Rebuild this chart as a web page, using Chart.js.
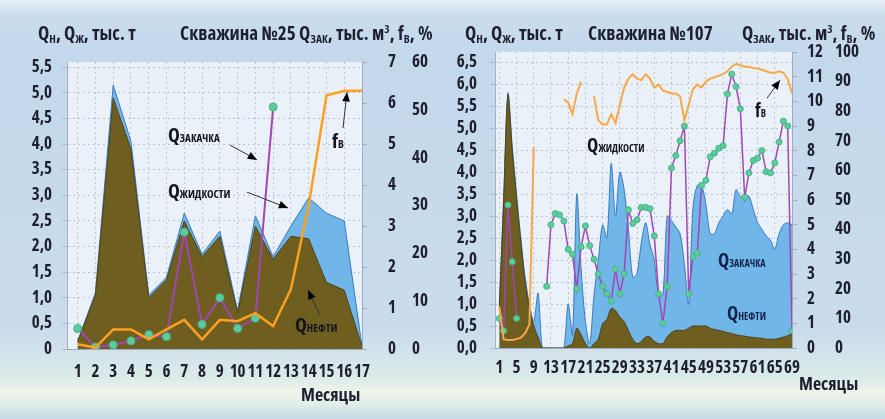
<!DOCTYPE html>
<html>
<head>
<meta charset="utf-8">
<script src="https://cdn.jsdelivr.net/npm/chart.js@4.4.1/dist/chart.umd.min.js"></script>
<style>
  html, body { margin: 0; padding: 0; }
  body {
    width: 885px; height: 419px; overflow: hidden; position: relative;
    background: linear-gradient(to bottom, #e8eef5 0px, #cadcee 16px, #c4d8ec 60px, #cadcec 330px, #dceae8 378px, #eef5ea 392px, #e2eee8 404px, #c4dae6 419px);
  }
  canvas { position: absolute; top: 0; }
  .hdr { position: absolute; top: 20px; color: #1e2030; white-space: nowrap; }
  .hdr sub { font-size: 60%; vertical-align: -3px; }
  .hdr sup { font-size: 60%; vertical-align: 7px; }
  .xt { position: absolute; color: #1e2030; white-space: nowrap; }
</style>
</head>
<body>
<canvas id="c25" width="445" height="419" style="left:0px"></canvas>
<canvas id="c107" width="445" height="419" style="left:440px"></canvas>

<div class="hdr" style="left:38px">Q<sub>Н</sub>, Q<sub>Ж</sub>, тыс. т</div>
<div class="hdr" style="left:180px">Скважина №25 Q<sub>ЗАК</sub>, тыс. м<sup>3</sup>, f<sub>В</sub>, %</div>
<div class="hdr" style="left:465px">Q<sub>Н</sub>, Q<sub>Ж</sub>, тыс. т</div>
<div class="hdr" style="left:588px">Скважина №107</div>
<div class="hdr" style="left:742px">Q<sub>ЗАК</sub>, тыс. м<sup>3</sup>, f<sub>В</sub>, %</div>
<div class="xt" style="left:301px; top:382px">Месяцы</div>
<div class="xt" style="left:799px; top:371px">Месяцы</div>

<script>
// ---- Скважина №25 ----
const months25 = [1, 2, 3, 4, 5, 6, 7, 8, 9, 10, 11, 12, 13, 14, 15, 16, 17];
const qLiquid25 = [0.15, 1.1, 5.15, 4.05, 1.05, 1.4, 2.65, 1.85, 2.3, 0.75, 2.6, 1.8, 2.4, 2.95, 2.65, 2.5, 0.05];
const qOil25 = [0.15, 1.05, 4.9, 3.9, 1.0, 1.35, 2.5, 1.8, 2.2, 0.7, 2.4, 1.75, 2.2, 2.15, 1.3, 1.15, 0.05];
const qInj25 = [0.5, 0.05, 0.1, 0.2, 0.35, 0.3, 2.85, 0.6, 1.25, 0.5, 0.75, 5.9, null, null, null, null, null];
const fw25 = [1.0, 0.3, 4.1, 4.1, 2.0, 4.1, 6.1, 2.0, 6.1, 5.8, 7.5, 4.8, 12.5, 30, 53, 54, 54];
const qTicks25 = [0, 0.5, 1, 1.5, 2, 2.5, 3, 3.5, 4, 4.5, 5, 5.5];
const qTickLabels25 = ['0', '0,5', '1,0', '1,5', '2,0', '2,5', '3,0', '3,5', '4,0', '4,5', '5,0', '5,5'];

// ---- Скважина №107 ----
const months107 = Array.from({length: 69}, (_, i) => i + 1);
const monthTicks107 = [1, 5, 9, 13, 17, 21, 25, 29, 33, 37, 41, 45, 49, 53, 57, 61, 65, 69];
const qLiquid107 = [1.0, 3.4, 5.8, 4.6, 3.5, 2.5, 1.6, 1.0, 0.6, 1.25,
  0, 0, 0, 0, 0, 0, 1.0, 0.3, 3.5, 1.8,
  0.6, 0.1, 1.2, 2.0, 2.8, 2.5, 4.2, 3.0, 4.0, 3.6,
  2.7, 1.6, 1.7, 2.4, 2.85, 2.35, 2.0, 1.2, 1.2, 3.0,
  2.9, 2.75, 2.6, 1.9, 1.0, 3.2, 3.7, 3.7, 3.25, 2.6,
  2.6, 2.85, 3.0, 3.15, 3.05, 3.6, 3.45, 3.45, 3.45, 3.15,
  2.85, 2.7, 2.55, 2.45, 2.25, 2.6, 2.8, 2.85, 2.8];
const qOil107 = [0.9, 3.3, 5.75, 4.5, 3.4, 2.4, 1.5, 0.9, 0.5, 0.25,
  0, 0, 0, 0, 0, 0, 0.05, 0.1, 0.45, 0.3,
  0.1, 0.0, 0.1, 0.2, 0.55, 0.65, 0.9, 0.85, 0.7, 0.6,
  0.4, 0.2, 0.1, 0.15, 0.25, 0.25, 0.15, 0.1, 0.1, 0.25,
  0.35, 0.4, 0.4, 0.4, 0.45, 0.5, 0.5, 0.5, 0.5, 0.45,
  0.42, 0.4, 0.38, 0.35, 0.33, 0.3, 0.28, 0.27, 0.25, 0.24,
  0.23, 0.22, 0.2, 0.2, 0.2, 0.22, 0.25, 0.28, 0.32];
const qInj107 = [1.2, 0.7, 5.8, 3.5, 1.2, null, null, null, null, null,
  null, 2.5, 5.0, 5.45, 5.4, 5.15, 4.0, 3.8, 2.4, 4.1,
  4.95, 4.15, 3.6, 3.0, 2.5, 2.2, 1.9, 3.2, 2.2, 3.0,
  5.6, 5.05, 5.2, 5.7, 5.7, 5.65, 4.55, 2.2, 1.0, 2.5,
  7.3, 7.8, 8.4, 9.0, 2.2, 3.7, 3.85, 6.6, 6.8, 7.75,
  7.9, 8.1, 8.2, 10.3, 11.1, 10.6, 9.7, 6.1, 7.1, 7.6,
  7.7, 8.0, 7.15, 7.1, 7.5, 8.35, 9.2, 9.0, 0.7];
const fw107 = [14, 3.0, 2.7, 2.7, 3.0, 3.5, 5.0, 8.0, 68, null,
  null, null, null, null, null, 84, 83, 79, 86, 90,
  null, null, 85, 77, 75.5, 75.5, 79, 76, 82, 88,
  91, 92.5, 91, 90.5, 92.5, 91, 88, 89, 87, 86.5,
  86, 86, 85, 77, 82, 87.5, 89, 88, 90, 91,
  91.5, 92, 92.5, 93.5, 95, 96, 95.5, 95, 95, 94.5,
  94.5, 94, 93.5, 93, 93, 93.5, 93, 91, 86];
const qTicks107 = [0, 0.5, 1, 1.5, 2, 2.5, 3, 3.5, 4, 4.5, 5, 5.5, 6, 6.5];
const qTickLabels107 = ['0,0', '0,5', '1,0', '1,5', '2,0', '2,5', '3,0', '3,5', '4,0', '4,5', '5,0', '5,5', '6,0', '6,5'];

// подписи на графиках (в единицах осей)
const notes25 = [
  {x: 6.08, y: 4.04, main: 'Q', sub: 'ЗАКАЧКА', size: 20, arrow: [9.57, 3.98, 11.09, 3.69]},
  {x: 6.08, y: 2.95, main: 'Q', sub: 'ЖИДКОСТИ', size: 20, arrow: [10.53, 3.06, 12.84, 2.75]},
  {x: 15.31, y: 3.92, main: 'f', sub: 'В', size: 20, arrow: [15.93, 4.31, 16.16, 5.01]},
  {x: 13.23, y: 0.33, main: 'Q', sub: 'НЕФТИ', size: 20, arrow: [14.64, 0.66, 13.96, 1.15]}
];
const notes107 = [
  {x: 21.4, y: 4.46, main: 'Q', sub: 'ЖИДКОСТИ', size: 19},
  {x: 51.8, y: 1.84, main: 'Q', sub: 'ЗАКАЧКА', size: 19, color: '#16224a'},
  {x: 53.9, y: 0.64, main: 'Q', sub: 'НЕФТИ', size: 19, color: '#16224a'},
  {x: 60.4, y: 5.25, main: 'f', sub: 'В', size: 19, arrow: [63.2, 5.68, 66.2, 6.09]}
];

// узкий шрифт (в оригинале Arial Narrow): берём самый узкий из доступных
const fontCandidates = [
  {weight: 'bold', family: "'Liberation Sans Narrow'"},
  {weight: 'bold', family: "'Roboto Condensed'"},
  {weight: 'condensed bold', family: "'Open Sans'"},
  {weight: 'condensed bold', family: "'Noto Sans'"},
  {weight: 'bold', family: "'Liberation Sans'"}
];
const mctx = document.createElement('canvas').getContext('2d');
let FW = fontCandidates[fontCandidates.length - 1], best = 1e9;
fontCandidates.forEach(c => {
  mctx.font = c.weight + ' 16px ' + c.family;
  const w = mctx.measureText('Скважина 0123456789').width;
  if (w < best - 0.5) { best = w; FW = c; }
});
const FONT = FW.family + ", 'Liberation Sans', sans-serif";
const TEXT = '#1e2030';
function cssFont(size) { return FW.weight + ' ' + size + 'px ' + FONT; }
document.querySelectorAll('.hdr').forEach(el => { el.style.font = cssFont(19); });
document.querySelectorAll('.xt').forEach(el => { el.style.font = cssFont(18); });

const plotBg = {
  id: 'plotBg',
  beforeDraw(chart) {
    const a = chart.chartArea, ctx = chart.ctx;
    ctx.save();
    ctx.fillStyle = 'rgba(240,245,250,0.85)';
    ctx.fillRect(a.left, a.top, a.right - a.left, a.bottom - a.top);
    ctx.restore();
  }
};

const notesPlugin = {
  id: 'notes',
  afterDatasetsDraw(chart, args, opts) {
    const ctx = chart.ctx, xs = chart.scales.x, ys = chart.scales.y;
    (opts.items || []).forEach(n => {
      const px = xs.getPixelForValue(n.x), py = ys.getPixelForValue(n.y);
      ctx.save();
      ctx.fillStyle = n.color || '#15151f';
      ctx.font = cssFont(n.size);
      ctx.textBaseline = 'alphabetic';
      ctx.fillText(n.main, px, py);
      const w = ctx.measureText(n.main).width;
      ctx.font = cssFont(Math.round(n.size * 0.55));
      ctx.fillText(n.sub, px + w, py);
      if (n.arrow) {
        const x1 = xs.getPixelForValue(n.arrow[0]), y1 = ys.getPixelForValue(n.arrow[1]);
        const x2 = xs.getPixelForValue(n.arrow[2]), y2 = ys.getPixelForValue(n.arrow[3]);
        const ang = Math.atan2(y2 - y1, x2 - x1);
        ctx.strokeStyle = '#333';
        ctx.lineWidth = 1;
        ctx.beginPath();
        ctx.moveTo(x1, y1);
        ctx.lineTo(x2, y2);
        ctx.stroke();
        ctx.fillStyle = '#000';
        ctx.beginPath();
        ctx.moveTo(x2, y2);
        ctx.lineTo(x2 - 10 * Math.cos(ang - 0.4), y2 - 10 * Math.sin(ang - 0.4));
        ctx.lineTo(x2 - 10 * Math.cos(ang + 0.4), y2 - 10 * Math.sin(ang + 0.4));
        ctx.closePath();
        ctx.fill();
      }
      ctx.restore();
    });
  }
};

function pts(months, values) {
  return months.map((m, i) => ({x: m, y: values[i]}));
}

function makeChart(id, cfg) {
  const tickFont = {family: FONT, size: 17, weight: FW.weight};
  const grid = {color: 'rgba(150,160,185,0.55)', lineWidth: 1};
  return new Chart(document.getElementById(id), {
    type: 'line',
    data: {
      datasets: [
        {
          label: 'Qжидкости', data: pts(cfg.months, cfg.liquid), yAxisID: 'y', order: 4,
          fill: 'origin', backgroundColor: 'rgb(112,182,232)', borderColor: '#3c78c0',
          borderWidth: 1, pointRadius: 0, tension: cfg.tension
        },
        {
          label: 'Qнефти', data: pts(cfg.months, cfg.oil), yAxisID: 'y', order: 3,
          fill: 'origin', backgroundColor: 'rgb(110,94,32)', borderColor: '#4d4418',
          borderWidth: 1, pointRadius: 0, tension: cfg.tension
        },
        {
          label: 'Qзакачка', data: pts(cfg.months, cfg.inj), yAxisID: 'yInj', order: 2,
          fill: false, borderColor: '#a246b4', borderWidth: cfg.lineW,
          pointRadius: cfg.pointR, pointBackgroundColor: '#5ccc9c', pointBorderColor: '#46b488',
          pointBorderWidth: 1, spanGaps: false, tension: 0
        },
        {
          label: 'fв', data: pts(cfg.months, cfg.fw), yAxisID: 'yFw', order: 1,
          fill: false, borderColor: cfg.fwColor, borderWidth: cfg.fwW,
          pointRadius: 0, spanGaps: false, tension: 0
        }
      ]
    },
    options: {
      responsive: false,
      animation: false,
      devicePixelRatio: 1,
      layout: {padding: {left: 0, right: 0, top: cfg.top, bottom: 0}},
      plugins: {
        legend: {display: false},
        tooltip: {enabled: false},
        notes: {items: cfg.notes}
      },
      scales: {
        x: {
          type: 'linear', min: cfg.xMin, max: cfg.xMax,
          afterBuildTicks: (ax) => { ax.ticks = cfg.xTicks.map(v => ({value: v})); },
          afterFit: (ax) => { ax.height = cfg.xHeight; },
          ticks: {font: tickFont, color: TEXT, autoSkip: false, maxRotation: 0, padding: cfg.xPad,
                  callback: (v) => String(v)},
          grid: Object.assign({drawTicks: false}, grid),
          border: {display: true, color: 'rgba(150,160,185,0.8)', dash: [2, 3]}
        },
        y: {
          position: 'left', min: 0, max: cfg.yMax,
          afterBuildTicks: (ax) => { ax.ticks = cfg.yTicks.map(v => ({value: v})); },
          afterFit: (ax) => { ax.width = cfg.yWidth; },
          ticks: {font: tickFont, color: TEXT, padding: cfg.yPad, autoSkip: false,
                  callback: (v, i) => cfg.yLabels[i]},
          grid: Object.assign({drawTicks: true, tickLength: 5}, grid),
          border: {display: true, color: 'rgba(150,160,185,0.8)', dash: [2, 3]}
        },
        yInj: {
          position: 'right', weight: 1, min: 0, max: cfg.injMax,
          ticks: {font: tickFont, color: TEXT, stepSize: 1, padding: cfg.injPad, autoSkip: false},
          afterFit: (ax) => { ax.width = cfg.injWidth; },
          grid: {drawOnChartArea: false, drawTicks: true, tickLength: 5, color: 'rgba(150,160,185,0.8)'},
          border: {display: true, color: 'rgba(150,160,185,0.8)'}
        },
        yFw: {
          position: 'right', weight: 2, min: 0, max: cfg.fwMax,
          ticks: {font: tickFont, color: TEXT, stepSize: 10, padding: cfg.fwPad, autoSkip: false},
          afterFit: (ax) => { ax.width = cfg.fwWidth; },
          grid: {display: false, drawTicks: false},
          border: {display: false}
        }
      }
    },
    plugins: [plotBg, notesPlugin]
  });
}

makeChart('c25', {
  months: months25, liquid: qLiquid25, oil: qOil25, inj: qInj25, fw: fw25,
  xMin: 0.4, xMax: 17, xTicks: months25, xHeight: 70, xPad: 13,
  yMax: 5.6, yTicks: qTicks25, yLabels: qTickLabels25, yWidth: 67, yPad: 10,
  injMax: 7, injPad: 21, injWidth: 44, fwMax: 60, fwPad: 6, fwWidth: 39,
  top: 62, tension: 0, lineW: 2, pointR: 4, fwColor: '#ffa020', fwW: 2.5,
  notes: notes25
});

makeChart('c107', {
  months: months107, liquid: qLiquid107, oil: qOil107, inj: qInj107, fw: fw107,
  xMin: 0, xMax: 69, xTicks: monthTicks107, xHeight: 71, xPad: 10,
  yMax: 6.73, yTicks: qTicks107, yLabels: qTickLabels107, yWidth: 55, yPad: 13,
  injMax: 12, injPad: 10, injWidth: 40, fwMax: 100, fwPad: 3, fwWidth: 53,
  top: 52, tension: 0.3, lineW: 1.5, pointR: 3, fwColor: '#f7a84a', fwW: 2,
  notes: notes107
});
</script>
</body>
</html>
